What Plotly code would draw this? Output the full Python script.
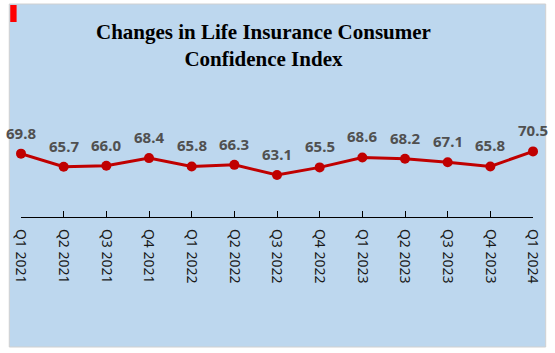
import plotly.graph_objects as go

quarters = ["Q1 2021", "Q2 2021", "Q3 2021", "Q4 2021", "Q1 2022", "Q2 2022", "Q3 2022",
            "Q4 2022", "Q1 2023", "Q2 2023", "Q3 2023", "Q4 2023", "Q1 2024"]
index_values = [69.8, 65.7, 66.0, 68.4, 65.8, 66.3, 63.1, 65.5, 68.6, 68.2, 67.1, 65.8, 70.5]

W, H = 555, 353
L, R, T, B = 15, 16, 121, 136
pw = W - L - R
ph = H - T - B

def px(x):
    return (x - L) / pw

def py(y):
    return (H - B - y) / ph

fig = go.Figure()
fig.add_trace(go.Scatter(
    x=quarters, y=index_values, mode="lines+markers",
    line=dict(color="#C00000", width=3),
    marker=dict(color="#C00000", size=10),
    hoverinfo="skip", showlegend=False, cliponaxis=False,
))

for q, v in zip(quarters, index_values):
    fig.add_annotation(x=q, y=v, text=f"{v:.1f}", showarrow=False, yshift=21,
                       xanchor="center", yanchor="middle",
                       font=dict(family="Noto Sans", size=15, color="#505050", weight="bold"))

# chart background box
fig.add_shape(type="rect", xref="paper", yref="paper", x0=px(3), x1=px(552), y0=py(347), y1=py(4),
              fillcolor="#BDD7EE", line=dict(color="#D0D0D0", width=1), layer="below")
fig.add_shape(type="rect", xref="paper", yref="paper", x0=px(4), x1=px(10.5), y0=py(22), y1=py(5),
              fillcolor="#FF0000", line=dict(width=0), layer="below")

fig.add_annotation(xref="paper", yref="paper", x=px(263), y=py(45), xanchor="center", yanchor="middle",
                   text="Changes in Life Insurance Consumer<br>Confidence Index", showarrow=False,
                   font=dict(family="Liberation Serif", size=21, color="#000000", weight="bold"))

fig.update_layout(
    width=W, height=H, margin=dict(l=L, r=R, t=T, b=B),
    paper_bgcolor="white", plot_bgcolor="rgba(0,0,0,0)",
    xaxis=dict(showgrid=False, showline=True, linecolor="#000000", linewidth=1.3,
               ticks="inside", ticklen=6, tickcolor="#000000", tickangle=90,
               tickfont=dict(family="Noto Sans", size=14, color="#1a1a1a"),
               ticklabelstandoff=8,
               range=[0, 12], zeroline=False, fixedrange=True),
    yaxis=dict(visible=False, range=[50, 80], fixedrange=True),
)

fig.write_html("out.html")
